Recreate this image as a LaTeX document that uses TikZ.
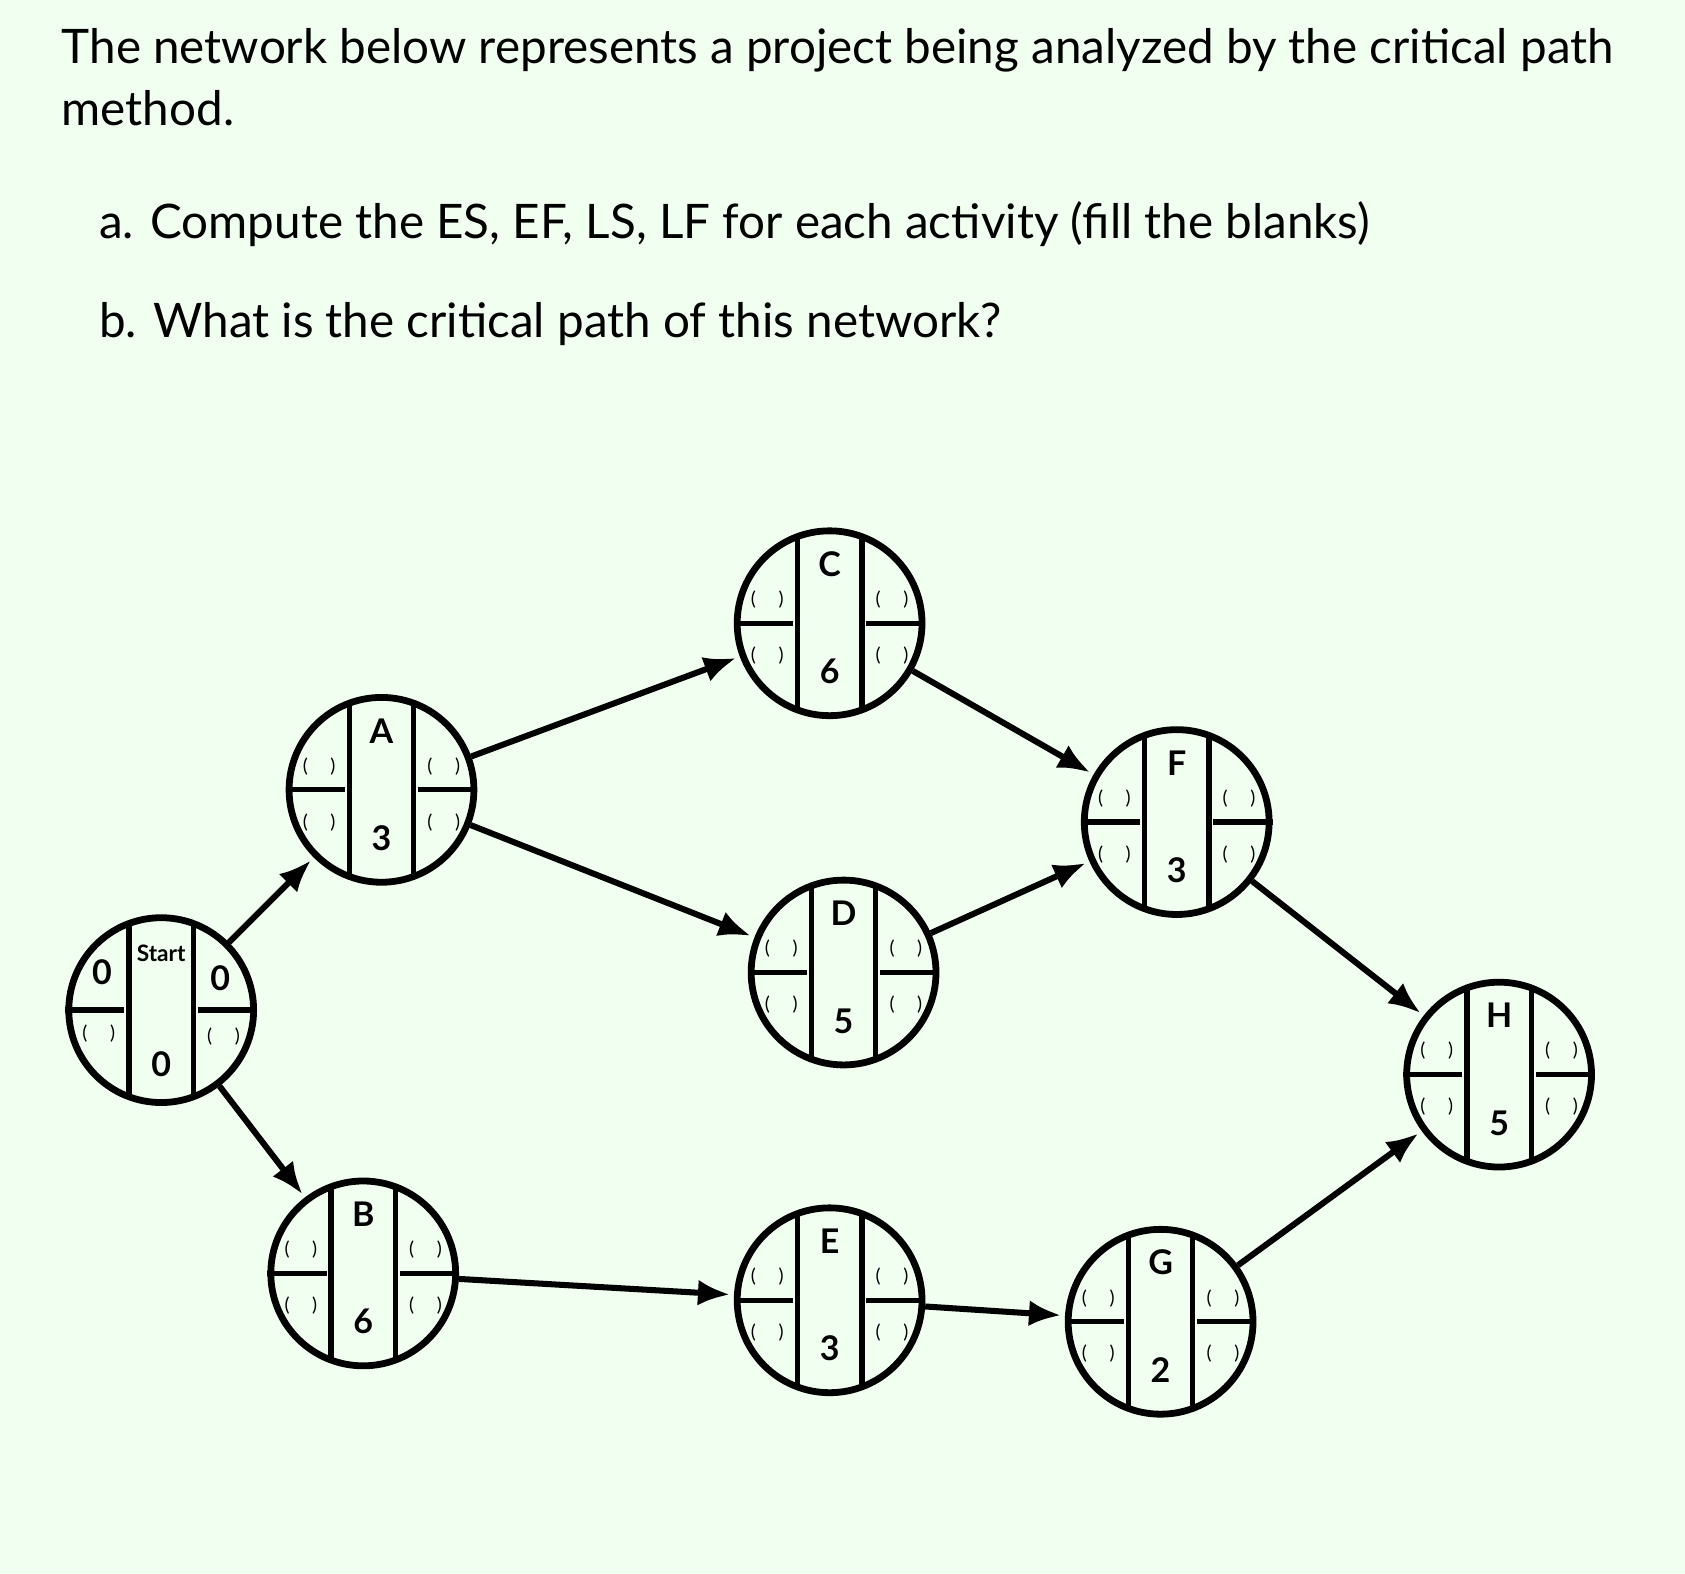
\documentclass[tikz,border=0pt]{standalone}
\usepackage{fontspec}
\setmainfont{Lato}
\usepackage{tikz}
\usetikzlibrary{arrows.meta, calc}
\tikzset{
   act/.style={circle, draw, line width=1.8pt, minimum size=1.72cm, inner sep=0pt},
   flow/.style={-{Latex[length=3mm,width=2.4mm]}, line width=1.6pt, shorten >=1pt},
   brk/.style={font=\fontsize{5}{6}\selectfont},
   qtext/.style={anchor=west, font=\fontsize{12.6}{16.5}\selectfont},
}
\newcommand{\cpmnode}[4]{%
   \node[act] (#1) at (#2) {};
   \draw[line width=1.4pt] ($(#1)+(-0.3,0.795)$) -- ($(#1)+(-0.3,-0.795)$)
      ($(#1)+(0.3,0.795)$) -- ($(#1)+(0.3,-0.795)$)
      (#1.west) -- ++(0.55,0) (#1.east) -- ++(-0.55,0);
   \node[font=\bfseries\small] at ($(#1)+(0,0.55)$) {#3};
   \node[font=\bfseries\small] at ($(#1)+(0,-0.45)$) {#4};
   \foreach \dx in {-0.58,0.58}{
      \foreach \dy in {0.22,-0.3}{
         \node[brk] at ($(#1)+(\dx,\dy)$) {(\hspace{1.2em})};
      }
   }
}
\begin{document}
\begin{tikzpicture}
   \useasboundingbox (0,0) rectangle (15.68,14.64);
   \fill[green!6] (0,0) rectangle (15.68,14.64);
   \node[qtext, align=left] (q) at (0.45,13.92)
      {The network below represents a project being analyzed by the critical path\\method.};
   \node[qtext] (qa) at (0.8,12.55)
      {a. Compute the ES, EF, LS, LF for each activity (fill the blanks)};
   \node[qtext] (qb) at (0.8,11.62)
      {b. What is the critical path of this network?};
   % start node
   \node[act] (st) at (1.5,5.24) {};
   \draw[line width=1.4pt] ($(st)+(-0.3,0.795)$) -- ($(st)+(-0.3,-0.795)$)
      ($(st)+(0.3,0.795)$) -- ($(st)+(0.3,-0.795)$)
      (st.west) -- ++(0.55,0) (st.east) -- ++(-0.55,0);
   \node[font=\bfseries\fontsize{6}{7}\selectfont] at ($(st)+(0,0.53)$) {Start};
   \node[font=\bfseries\small] at ($(st)+(0,-0.5)$) {0};
   \node[font=\bfseries\small] at ($(st)+(-0.55,0.35)$) {0};
   \node[font=\bfseries\small] at ($(st)+(0.55,0.3)$) {0};
   \node[brk] at ($(st)+(-0.58,-0.22)$) {(\hspace{1.2em})};
   \node[brk] at ($(st)+(0.58,-0.25)$) {(\hspace{1.2em})};
   % activities
   \cpmnode{A}{3.55,7.29}{A}{3}
   \cpmnode{C}{7.72,8.84}{C}{6}
   \cpmnode{D}{7.85,5.59}{D}{5}
   \cpmnode{F}{10.95,6.99}{F}{3}
   \cpmnode{H}{13.95,4.64}{H}{5}
   \cpmnode{B}{3.38,2.79}{B}{6}
   \cpmnode{E}{7.72,2.54}{E}{3}
   \cpmnode{G}{10.8,2.34}{G}{2}
   % connectors
   \draw[flow] (st) -- (A);
   \draw[flow] (st) -- (B);
   \draw[flow] (A) -- (C);
   \draw[flow] (A) -- (D);
   \draw[flow] (C) -- (F);
   \draw[flow] (D) -- (F);
   \draw[flow] (F) -- (H);
   \draw[flow] (B) -- (E);
   \draw[flow] (E) -- (G);
   \draw[flow] (G) -- (H);
\end{tikzpicture}
\end{document}
